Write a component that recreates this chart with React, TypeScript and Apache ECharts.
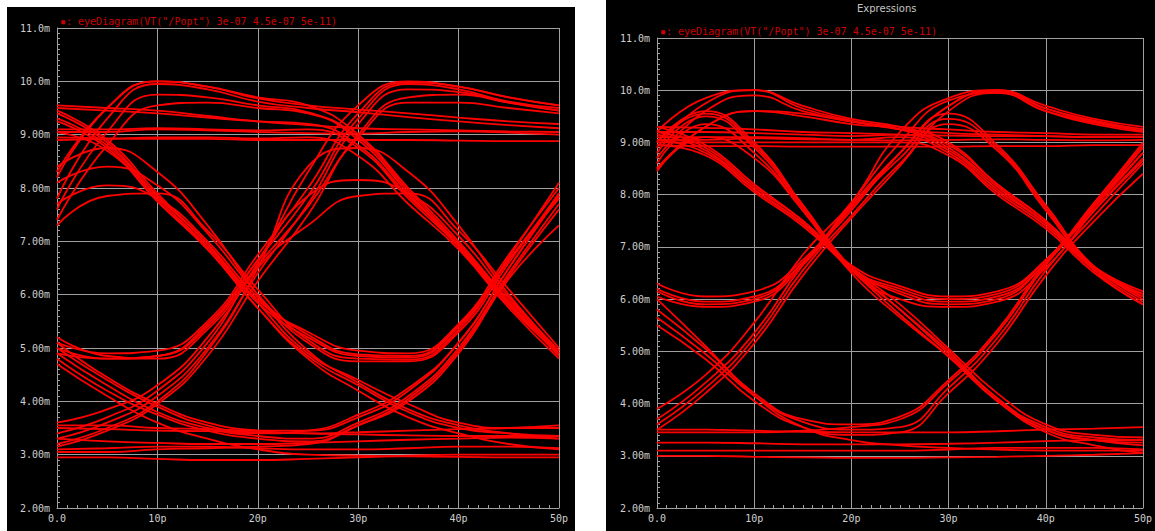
import React, { useEffect, useRef } from "react";
import * as echarts from "echarts";

// Sample instants of every folded trace (ps), one 50 ps window = two unit intervals.
const timePs = [0, 5, 10, 15, 20, 25, 30, 35, 40, 45, 50];

// Folded waveform segments of the first run (mV), one row per trace.
const leftTraces: number[][] = [
  [9.05, 9.05, 9.1, 9.08, 9.05, 9.03, 9.02, 9.05, 9.06, 9.04, 9.0],
  [9.55, 9.5, 9.45, 9.35, 9.25, 9.18, 9.12, 9.1, 9.08, 9.06, 9.05],
  [8.95, 8.93, 8.92, 8.92, 8.9, 8.9, 8.9, 8.9, 8.89, 8.88, 8.88],
  [7.8, 9.3, 9.95, 9.85, 9.62, 9.5, 9.42, 9.33, 9.25, 9.18, 9.12],
  [8.3, 9.5, 10.0, 9.9, 9.68, 9.55, 9.47, 9.4, 9.32, 9.25, 9.2],
  [9.1, 9.1, 9.12, 9.1, 9.08, 9.1, 8.75, 7.8, 6.9, 5.8, 4.9],
  [9.5, 9.45, 9.4, 9.32, 9.25, 9.2, 8.8, 7.85, 6.95, 5.85, 4.85],
  [7.6, 9.05, 9.75, 9.7, 9.55, 9.42, 8.95, 7.95, 6.95, 5.85, 4.95],
  [9.3, 8.8, 7.8, 6.9, 5.85, 5.2, 4.85, 4.82, 5.4, 6.65, 7.85],
  [9.25, 8.75, 7.75, 6.85, 5.75, 4.85, 4.3, 3.8, 3.5, 3.4, 3.35],
  [7.7, 8.05, 7.8, 7.0, 5.95, 5.25, 4.88, 4.85, 5.42, 6.65, 7.8],
  [8.4, 8.75, 8.3, 7.3, 6.0, 4.95, 4.35, 3.85, 3.55, 3.4, 3.3],
  [4.9, 4.8, 4.85, 5.45, 6.65, 7.85, 9.3, 9.95, 9.85, 9.62, 9.5],
  [5.0, 4.8, 4.85, 5.4, 6.65, 7.85, 8.15, 7.9, 7.1, 5.95, 4.9],
  [4.9, 4.3, 3.8, 3.5, 3.35, 3.3, 3.6, 4.1, 5.0, 6.4, 7.7],
  [5.1, 4.45, 3.95, 3.6, 3.45, 3.4, 3.38, 3.36, 3.35, 3.35, 3.35],
  [3.3, 3.6, 4.1, 5.0, 6.4, 7.7, 9.2, 9.85, 9.8, 9.6, 9.45],
  [3.4, 3.7, 4.2, 5.1, 6.5, 7.3, 7.85, 7.9, 7.2, 6.1, 5.0],
  [3.05, 3.05, 3.1, 3.12, 3.15, 3.2, 3.55, 4.05, 4.95, 6.35, 7.6],
  [2.95, 2.95, 2.92, 2.9, 2.9, 2.92, 2.95, 2.98, 3.0, 3.0, 3.0],
  [3.5, 3.48, 3.45, 3.44, 3.42, 3.4, 3.42, 3.45, 3.48, 3.5, 3.55],
  [3.3, 3.25, 3.22, 3.2, 3.2, 3.22, 3.25, 3.28, 3.3, 3.32, 3.3],
  [9.45, 8.9, 7.9, 6.95, 5.9, 5.3, 4.95, 4.9, 5.45, 6.75, 8.0],
  [7.3, 7.85, 7.9, 7.2, 6.1, 5.15, 4.8, 4.78, 5.35, 6.7, 8.1],
  [5.2, 4.85, 4.8, 5.35, 6.55, 7.65, 8.95, 9.6, 9.6, 9.5, 9.4],
  [3.6, 3.85, 4.3, 5.2, 6.6, 8.3, 9.55, 10.0, 9.9, 9.7, 9.55],
  [4.8, 4.2, 3.75, 3.45, 3.3, 3.25, 3.55, 4.0, 4.9, 6.3, 7.3],
  [8.2, 9.5, 10.0, 9.9, 9.7, 9.55, 9.0, 8.0, 7.0, 5.9, 4.95],
  [9.05, 8.7, 7.75, 6.85, 5.75, 4.8, 4.2, 3.7, 3.4, 3.2, 3.1],
  [3.2, 3.5, 4.0, 4.95, 6.5, 8.4, 8.75, 8.3, 7.3, 6.0, 4.95],
  [4.7, 4.1, 3.6, 3.3, 3.1, 3.0, 2.98, 2.97, 2.96, 2.95, 2.95],
  [3.55, 3.55, 3.5, 3.48, 3.45, 3.45, 3.7, 4.2, 5.1, 6.5, 7.9],
  [8.9, 8.92, 8.95, 8.95, 8.93, 8.95, 8.6, 7.7, 6.85, 5.75, 4.8],
  [8.1, 8.4, 8.05, 7.15, 6.0, 5.1, 4.75, 4.75, 5.3, 6.6, 7.9],
  [5.0, 4.4, 3.9, 3.55, 3.4, 3.45, 3.75, 4.25, 5.1, 6.5, 7.85],
  [3.15, 3.45, 3.95, 4.85, 6.25, 7.5, 9.0, 9.7, 9.75, 9.6, 9.45],
  [9.4, 8.85, 7.85, 6.95, 5.85, 4.9, 4.4, 3.95, 3.6, 3.5, 3.5],
  [3.1, 3.12, 3.15, 3.15, 3.12, 3.1, 3.1, 3.12, 3.15, 3.15, 3.12],
  [5.1, 4.9, 4.95, 5.5, 6.75, 8.0, 9.4, 9.98, 9.9, 9.7, 9.55],
  [7.4, 8.8, 9.55, 9.6, 9.5, 9.4, 8.9, 7.9, 6.9, 5.8, 4.9],
];

// Folded waveform segments of the second run (mV).
const rightTraces: number[][] = [
  [9.05, 9.05, 9.08, 9.06, 9.05, 9.04, 9.05, 9.06, 9.05, 9.04, 9.05],
  [9.3, 9.28, 9.25, 9.2, 9.18, 9.15, 9.13, 9.12, 9.12, 9.1, 9.1],
  [8.95, 8.93, 8.93, 8.92, 8.92, 8.92, 8.92, 8.93, 8.93, 8.95, 8.95],
  [8.9, 9.75, 10.0, 9.65, 9.42, 9.25, 9.18, 9.15, 9.12, 9.1, 9.1],
  [8.5, 9.3, 9.6, 9.55, 9.4, 9.3, 9.25, 9.2, 9.18, 9.15, 9.15],
  [9.1, 9.1, 9.1, 9.08, 9.05, 9.1, 8.8, 8.05, 7.4, 6.55, 5.95],
  [9.2, 9.85, 10.0, 9.7, 9.45, 9.3, 9.0, 8.2, 7.5, 6.6, 6.0],
  [9.15, 8.85, 8.1, 7.45, 6.6, 6.1, 5.9, 6.0, 6.7, 7.8, 8.8],
  [9.2, 8.9, 8.15, 7.5, 6.6, 5.8, 4.95, 4.1, 3.5, 3.3, 3.25],
  [8.8, 9.5, 8.9, 7.75, 6.6, 6.15, 5.95, 6.05, 6.7, 7.8, 8.9],
  [8.6, 9.35, 8.8, 7.7, 6.5, 5.65, 4.9, 4.05, 3.5, 3.3, 3.2],
  [6.2, 5.95, 6.05, 6.7, 7.8, 8.8, 9.7, 9.98, 9.65, 9.42, 9.25],
  [6.05, 5.85, 5.95, 6.65, 7.75, 8.7, 9.45, 8.9, 7.75, 6.6, 6.1],
  [5.65, 4.95, 4.15, 3.65, 3.5, 3.55, 4.3, 5.25, 6.55, 7.6, 8.6],
  [6.0, 5.1, 4.15, 3.55, 3.3, 3.2, 3.15, 3.12, 3.1, 3.1, 3.1],
  [3.7, 4.4, 5.35, 6.65, 7.7, 8.8, 9.7, 10.0, 9.65, 9.4, 9.25],
  [3.6, 4.3, 5.25, 6.55, 7.6, 8.6, 9.35, 8.85, 7.7, 6.55, 5.9],
  [3.45, 3.45, 3.45, 3.48, 3.55, 3.7, 4.4, 5.35, 6.65, 7.7, 8.65],
  [3.0, 3.0, 2.98, 2.97, 2.96, 2.96, 2.97, 2.98, 3.0, 3.02, 3.05],
  [3.25, 3.25, 3.24, 3.22, 3.22, 3.22, 3.23, 3.25, 3.28, 3.3, 3.3],
  [3.5, 3.5, 3.48, 3.46, 3.45, 3.45, 3.45, 3.47, 3.5, 3.52, 3.55],
  [9.3, 8.95, 8.2, 7.5, 6.65, 6.25, 6.05, 6.15, 6.75, 7.85, 9.0],
  [8.45, 9.1, 8.7, 7.7, 6.55, 6.0, 5.85, 5.95, 6.6, 7.7, 8.7],
  [6.3, 6.05, 6.15, 6.75, 7.85, 9.0, 9.8, 9.95, 9.6, 9.35, 9.2],
  [5.5, 4.85, 4.05, 3.55, 3.4, 3.45, 4.2, 5.15, 6.45, 7.5, 8.4],
  [3.9, 4.55, 5.55, 6.85, 7.85, 9.2, 9.85, 10.0, 9.7, 9.45, 9.3],
  [8.95, 8.75, 8.05, 7.4, 6.55, 5.7, 4.9, 4.05, 3.45, 3.2, 3.05],
  [8.5, 9.3, 9.6, 9.5, 9.35, 9.25, 8.9, 8.15, 7.45, 6.6, 6.05],
  [9.0, 9.6, 9.0, 7.8, 6.6, 5.8, 5.0, 4.1, 3.55, 3.35, 3.3],
  [9.0, 9.0, 9.0, 9.0, 9.0, 9.0, 8.75, 8.0, 7.35, 6.5, 5.9],
  [9.0, 9.55, 8.95, 7.8, 6.62, 6.2, 6.0, 6.1, 6.75, 7.85, 8.95],
  [5.8, 5.05, 4.2, 3.7, 3.6, 3.75, 4.45, 5.4, 6.7, 7.75, 8.8],
  [3.5, 4.2, 5.15, 6.45, 7.55, 8.55, 9.6, 9.95, 9.6, 9.38, 9.22],
  [9.05, 8.8, 8.1, 7.45, 6.6, 5.9, 5.05, 4.2, 3.6, 3.4, 3.35],
  [9.2, 9.2, 9.18, 9.15, 9.12, 9.15, 8.85, 8.1, 7.45, 6.6, 6.1],
  [8.7, 9.6, 9.9, 9.6, 9.4, 9.25, 8.95, 8.2, 7.5, 6.62, 6.15],
  [6.15, 5.9, 6.0, 6.7, 7.8, 8.8, 9.55, 8.95, 7.8, 6.62, 6.05],
  [3.1, 3.1, 3.1, 3.1, 3.1, 3.1, 3.12, 3.15, 3.15, 3.15, 3.12],
];

const legendLabel = '▪: eyeDiagram(VT("/Popt") 3e-07 4.5e-07 5e-11)';
const windowTitle = "Expressions";

const MONO = "DejaVu Sans Mono";
const GRID_GRAY = "#a0a0a0";
const LABEL_GRAY = "#cfcfcf";
const TRACE_RED = "#ff0000";

type PanelLayout = {
  gridLeft: number;
  gridTop: number;
  gridWidth: number;
  gridHeight: number;
  legendX: number;
  legendY: number;
  title?: { x: number; y: number };
};

function voltLabel(v: number): string {
  return v >= 10 ? v.toFixed(1) + "m" : v.toFixed(2) + "m";
}

function timeLabel(v: number): string {
  return v === 0 ? "0.0" : v + "p";
}

function buildOption(traces: number[][], layout: PanelLayout) {
  const axisCommon = {
    type: "value" as const,
    axisLine: { show: true, lineStyle: { color: GRID_GRAY, width: 1 } },
    axisTick: { show: true, inside: true, length: 3, lineStyle: { color: GRID_GRAY } },
    minorTick: { show: true, splitNumber: 10, length: 3, lineStyle: { color: GRID_GRAY } },
    splitLine: { show: true, lineStyle: { color: GRID_GRAY, width: 1 } },
    axisLabel: { color: LABEL_GRAY, fontFamily: MONO, fontSize: 10 },
  };

  const graphics: any[] = [
    {
      type: "text",
      x: layout.legendX,
      y: layout.legendY,
      style: {
        text: legendLabel,
        fill: "#cc0000",
        font: `10px "${MONO}"`,
        textVerticalAlign: "middle",
      },
    },
  ];
  if (layout.title) {
    graphics.push({
      type: "text",
      x: layout.title.x,
      y: layout.title.y,
      style: {
        text: windowTitle,
        fill: "#c4c4c4",
        font: '10px "DejaVu Sans"',
        textVerticalAlign: "middle",
      },
    });
  }

  return {
    animation: false,
    backgroundColor: "#000000",
    grid: {
      left: layout.gridLeft,
      top: layout.gridTop,
      width: layout.gridWidth,
      height: layout.gridHeight,
    },
    xAxis: {
      ...axisCommon,
      min: 0,
      max: 50,
      interval: 10,
      axisLabel: { ...axisCommon.axisLabel, margin: 5, formatter: timeLabel },
    },
    yAxis: {
      ...axisCommon,
      min: 2,
      max: 11,
      interval: 1,
      axisLabel: { ...axisCommon.axisLabel, margin: 7, formatter: voltLabel },
    },
    graphic: graphics,
    series: traces.map((row, i) => ({
      name: "trace" + i,
      type: "line",
      smooth: 0.5,
      showSymbol: false,
      silent: true,
      data: row.map((v, k) => [timePs[k], v]),
      lineStyle: { color: TRACE_RED, width: 1.8 },
    })),
  };
}

function EyePanel(props: {
  traces: number[][];
  layout: PanelLayout;
  style: React.CSSProperties;
}) {
  const ref = useRef<HTMLDivElement | null>(null);
  useEffect(() => {
    if (!ref.current) return;
    const chart = echarts.init(ref.current, undefined, { renderer: "svg" });
    chart.setOption(buildOption(props.traces, props.layout));
    return () => chart.dispose();
  }, [props.traces, props.layout]);
  return <div ref={ref} style={{ position: "absolute", ...props.style }} />;
}

const leftLayout: PanelLayout = {
  gridLeft: 50,
  gridTop: 21,
  gridWidth: 502,
  gridHeight: 480,
  legendX: 53,
  legendY: 14,
};

const rightLayout: PanelLayout = {
  gridLeft: 51,
  gridTop: 38,
  gridWidth: 488,
  gridHeight: 470,
  legendX: 54,
  legendY: 31,
  title: { x: 251, y: 8 },
};

export default function App() {
  return (
    <div
      style={{
        position: "fixed",
        left: 0,
        top: 0,
        width: 1155,
        height: 531,
        background: "#ffffff",
        overflow: "hidden",
      }}
    >
      <EyePanel
        traces={leftTraces}
        layout={leftLayout}
        style={{ left: 7, top: 7, width: 568, height: 524 }}
      />
      <EyePanel
        traces={rightTraces}
        layout={rightLayout}
        style={{ left: 606, top: 0, width: 549, height: 531 }}
      />
    </div>
  );
}
